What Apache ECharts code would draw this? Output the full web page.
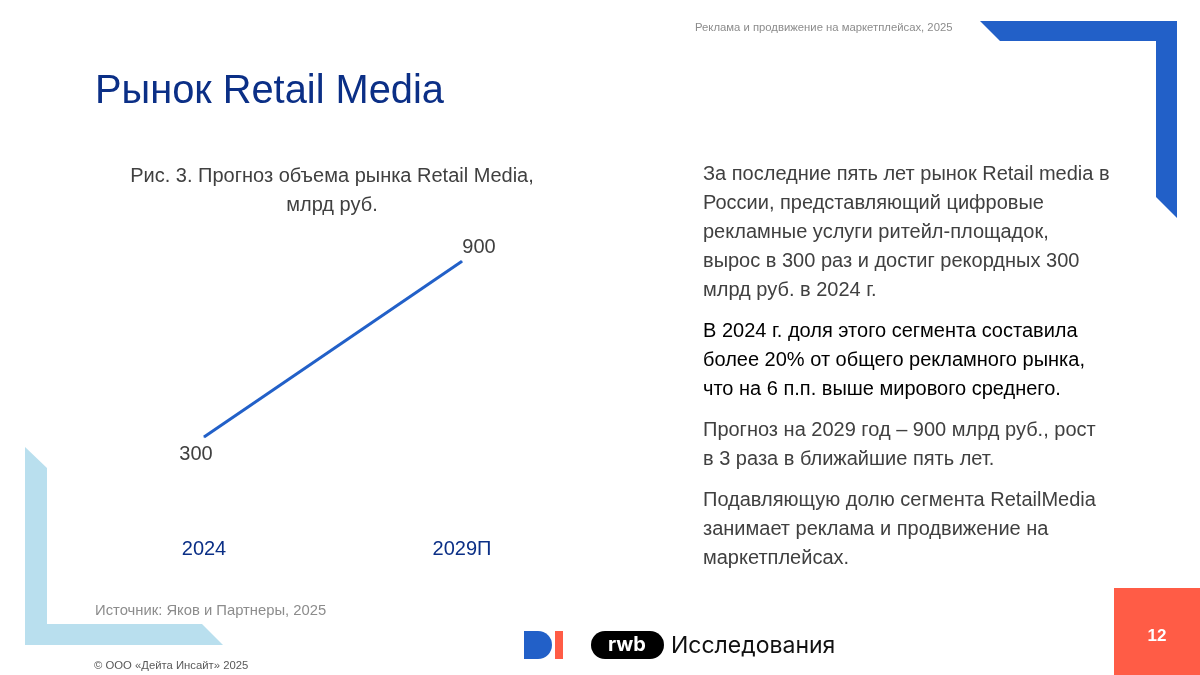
<!DOCTYPE html>
<html>
<head>
<meta charset="utf-8">
<style>
html, body { margin: 0; padding: 0; background: #fff; }
#chart { width: 1200px; height: 675px; }
</style>
<script src="https://cdn.jsdelivr.net/npm/echarts@6/dist/echarts.min.js"></script>
</head>
<body>
<div id="chart"></div>
<script>
// данные
var years = ['2024', '2029П'];
var marketValues = [300, 900];
var chartTitle = 'Рис. 3. Прогноз объема рынка Retail Media,\nмлрд руб.';

var FONT = '"Liberation Sans", Arial, sans-serif';
var BLUE = '#2260C8';
var NAVY = '#0B2F86';
var GREY = '#404040';
var LIGHT = '#B9DFEE';
var CORAL = '#FF5C46';

function txt(x, y, text, size, color, extra) {
    var style = { x: x, y: y, text: text, fontSize: size, fill: color, fontFamily: FONT, textVerticalAlign: 'middle' };
    for (var k in extra) style[k] = extra[k];
    return { type: 'text', silent: true, style: style };
}

function para(y, lines, color) {
    return lines.map(function (line, i) {
        return txt(703, y + i * 29, line, 20, color);
    });
}

var decor = [
    // уголки
    { type: 'polygon', silent: true, shape: { points: [[980, 21], [1177, 21], [1177, 218], [1156, 197], [1156, 41], [1000, 41]] }, style: { fill: BLUE } },
    { type: 'polygon', silent: true, shape: { points: [[25, 447], [47, 468], [47, 624], [202, 624], [223, 645], [25, 645]] }, style: { fill: LIGHT } },
    // номер страницы
    { type: 'rect', silent: true, shape: { x: 1114, y: 588, width: 86, height: 87 }, style: { fill: CORAL } },
    txt(1157, 636, '12', 17, '#fff', { textAlign: 'center', fontWeight: 'bold' }),
    // логотипы
    { type: 'circle', silent: true, shape: { cx: 538, cy: 645, r: 14 }, style: { fill: BLUE } },
    { type: 'rect', silent: true, shape: { x: 524, y: 631, width: 14, height: 28 }, style: { fill: BLUE } },
    { type: 'rect', silent: true, shape: { x: 555, y: 631, width: 8, height: 28 }, style: { fill: CORAL } },
    { type: 'rect', silent: true, shape: { x: 591, y: 631, width: 73, height: 28, r: 14 }, style: { fill: '#000' } },
    txt(627, 645, 'rwb', 20, '#fff', { textAlign: 'center', fontWeight: 'bold', fontFamily: '"Inter", sans-serif' }),
    txt(671, 646, 'Исследования', 23, '#111', { fontFamily: '"Inter", sans-serif' }),
    // заголовки и подписи
    txt(695, 28, 'Реклама и продвижение на маркетплейсах, 2025', 11.3, '#8c8c8c'),
    txt(95, 92, 'Рынок Retail Media', 39.8, NAVY),
    txt(95, 611, 'Источник: Яков и Партнеры, 2025', 14.8, '#8c8c8c'),
    txt(94, 666, '© ООО «Дейта Инсайт» 2025', 11.3, '#595959')
];

decor = decor.concat(
    para(174, ['За последние пять лет рынок Retail media в', 'России, представляющий цифровые', 'рекламные услуги ритейл-площадок,', 'вырос в 300 раз и достиг рекордных 300', 'млрд руб. в 2024 г.'], GREY),
    para(331, ['В 2024 г. доля этого сегмента составила', 'более 20% от общего рекламного рынка,', 'что на 6 п.п. выше мирового среднего.'], '#000'),
    para(430, ['Прогноз на 2029 год – 900 млрд руб., рост', 'в 3 раза в ближайшие пять лет.'], GREY),
    para(500, ['Подавляющую долю сегмента RetailMedia', 'занимает реклама и продвижение на', 'маркетплейсах.'], GREY)
);

var market_line = echarts.init(document.getElementById('chart'), null, { renderer: 'canvas' });
var labelStyles = [
    { position: 'bottom', offset: [-8, 1] },
    { position: 'top', offset: [17, 3] }
];
var option = {
    animation: false,
    backgroundColor: '#fff',
    textStyle: { fontFamily: FONT },
    title: {
        text: chartTitle,
        left: 327,
        top: 157,
        textAlign: 'center',
        textStyle: { fontSize: 20, fontWeight: 'normal', color: GREY, lineHeight: 29, fontFamily: FONT }
    },
    grid: { left: 75, width: 516, top: 232, height: 293 },
    xAxis: {
        type: 'category',
        data: years,
        axisLine: { show: false },
        axisTick: { show: false },
        axisLabel: { fontSize: 20, color: NAVY, margin: 14, fontFamily: FONT }
    },
    yAxis: {
        type: 'value',
        min: 0,
        max: 1000,
        show: false,
        splitLine: { show: false }
    },
    series: [
        {
            name: 'Рынок Retail Media',
            type: 'line',
            symbol: 'circle',
            symbolSize: 1,
            showSymbol: true,
            itemStyle: { color: BLUE },
            lineStyle: { color: BLUE, width: 3, cap: 'butt' },
            label: { show: true, fontSize: 20, color: GREY, distance: 6, fontFamily: FONT },
            data: marketValues.map(function (v, i) {
                return { value: v, label: labelStyles[i] };
            })
        }
    ],
    graphic: { elements: decor }
};
market_line.setOption(option);
</script>
</body>
</html>
